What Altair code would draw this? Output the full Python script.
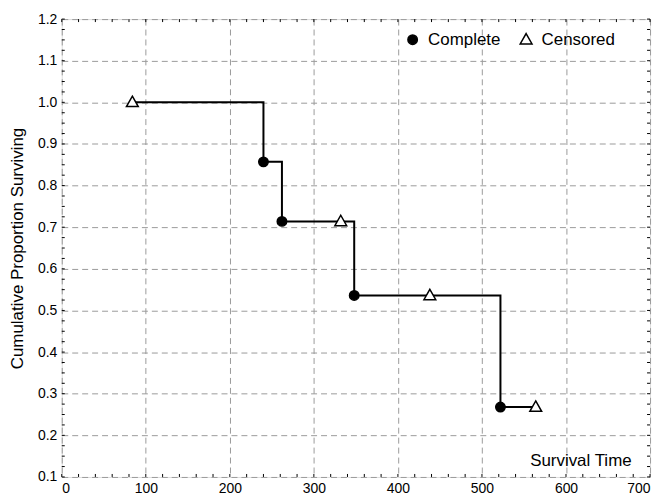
import altair as alt
import pandas as pd
import numpy as np

# Step curve (Kaplan-Meier)
line_time = [84, 240, 262, 348, 522, 564]
line_surv = [1.0, 0.857, 0.714, 0.536, 0.268, 0.268]

# Complete observations
complete_time = [240, 262, 348, 522]
complete_surv = [0.857, 0.714, 0.536, 0.268]

# Censored observations
censored_time = [84, 332, 438, 564]
censored_surv = [1.0, 0.714, 0.536, 0.268]

x_ticks = list(range(0, 701, 100))
y_ticks = [round(v, 1) for v in np.arange(0.1, 1.21, 0.1)]
x_minor = list(range(0, 701, 20))
y_minor = [round(v, 3) for v in np.arange(0.1, 1.2001, 0.025)]

W, H = 591, 460
FONT = "Liberation Sans"
TRIANGLE = "M0,-1.3L1.25,0.9L-1.25,0.9Z"

line_df = pd.DataFrame({"t": line_time, "s": line_surv})
pts_df = pd.DataFrame({
    "t": complete_time + censored_time,
    "s": complete_surv + censored_surv,
    "type": ["Complete"] * len(complete_time) + ["Censored"] * len(censored_time),
})
xm_df = pd.DataFrame({"t": x_minor})
ym_df = pd.DataFrame({"s": y_minor})

xscale = alt.Scale(domain=[0, 700], nice=False, zero=False)
yscale = alt.Scale(domain=[0.1, 1.2], nice=False, zero=False)

xaxis = alt.Axis(
    values=x_ticks, title="Survival Time", ticks=False, domain=False,
    labelFontSize=14, labelPadding=5, labelColor="black", labelFont=FONT,
    grid=True, gridDash=[6, 4], gridColor="#9a9a9a", gridWidth=1,
    titleFont=FONT, titleFontSize=17, titleFontWeight="normal", titleColor="black",
    titleX=572, titleY=-12, titleAlign="right", titleBaseline="alphabetic",
)
yaxis = alt.Axis(
    values=y_ticks, format=".1f", title="Cumulative Proportion Surviving",
    ticks=False, domain=False,
    labelFontSize=14, labelPadding=5, labelColor="black", labelFont=FONT,
    grid=True, gridDash=[6, 4], gridColor="#9a9a9a", gridWidth=1,
    titleFont=FONT, titleFontSize=17, titleFontWeight="normal", titleColor="black",
    titleX=-44, titleY=230, titleAngle=-90, titleAlign="center", titleBaseline="middle",
)

cats = ["Complete", "Censored"]


def make_legend():
    return alt.Legend(title=None, orient="none", direction="horizontal",
                      legendX=344, legendY=12,
                      labelFontSize=17, labelFont=FONT, labelColor="black",
                      symbolSize=90, labelOffset=7, columnPadding=16,
                      symbolStrokeWidth=1.5, padding=0)


base_line = alt.Chart(line_df).mark_line(
    interpolate="step-after", color="black", strokeWidth=2
).encode(
    x=alt.X("t:Q", scale=xscale, axis=xaxis),
    y=alt.Y("s:Q", scale=yscale, axis=yaxis),
)

points = alt.Chart(pts_df).mark_point(
    filled=False, stroke="black", strokeWidth=1.5, opacity=1
).encode(
    x=alt.X("t:Q", scale=xscale),
    y=alt.Y("s:Q", scale=yscale),
    shape=alt.Shape("type:N", scale=alt.Scale(domain=cats, range=["circle", TRIANGLE]),
                    legend=make_legend()),
    fill=alt.Fill("type:N", scale=alt.Scale(domain=cats, range=["black", "white"]),
                  legend=make_legend()),
    size=alt.value(90),
)

tick_bottom = alt.Chart(xm_df).mark_rule(color="black", strokeWidth=1).encode(
    x=alt.X("t:Q", scale=xscale), y=alt.value(H), y2=alt.value(H - 3))
tick_top = alt.Chart(xm_df).mark_rule(color="black", strokeWidth=1).encode(
    x=alt.X("t:Q", scale=xscale), y=alt.value(0), y2=alt.value(3))
tick_left = alt.Chart(ym_df).mark_rule(color="black", strokeWidth=1).encode(
    y=alt.Y("s:Q", scale=yscale), x=alt.value(0), x2=alt.value(3))
tick_right = alt.Chart(ym_df).mark_rule(color="black", strokeWidth=1).encode(
    y=alt.Y("s:Q", scale=yscale), x=alt.value(W), x2=alt.value(W - 3))

chart = alt.layer(
    base_line, tick_bottom, tick_top, tick_left, tick_right, points
).properties(
    width=W, height=H,
    autosize=alt.AutoSizeParams(type="none"),
    padding={"left": 54, "top": 10, "right": 8, "bottom": 21},
).configure_view(
    stroke="black", strokeWidth=1
).configure(background="white")

chart.save("out.html", embed_options={"renderer": "svg", "actions": False})
